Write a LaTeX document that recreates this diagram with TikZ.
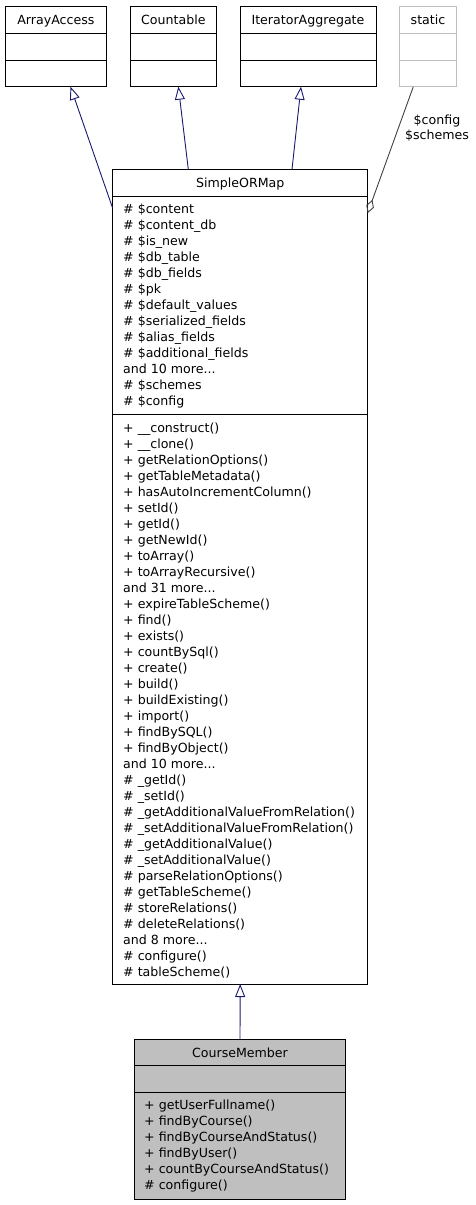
\documentclass[tikz,border=0pt]{standalone}
\usepackage{fontspec}
\setmainfont{DejaVu Sans}
\usetikzlibrary{arrows.meta}
\definecolor{edgeblue}{HTML}{191970}
\definecolor{greyline}{HTML}{404040}
\definecolor{greybox}{HTML}{BFBFBF}
\begin{document}
\begin{tikzpicture}[x=1pt,y=-1pt,
  every node/.style={font=\fontsize{12.6}{16}\selectfont},
  classbox/.style={draw, line width=1pt, anchor=north west, inner sep=0pt, outer sep=0pt},
  sep/.style={line width=1pt},
  title/.style={anchor=base, inner sep=0pt},
  members/.style={anchor=north west, inner sep=0pt, align=left},
  inherit/.style={draw=edgeblue, line width=0.9pt, -{Triangle[open,length=13pt,width=10pt]}},
  usage/.style={draw=greyline, line width=0.9pt, -{Diamond[open,length=14pt,width=8pt]}}]
\useasboundingbox (0,0) rectangle (476,1205);

% ---- top row ----
\node[classbox, minimum width=101.7pt, minimum height=80.7pt] (aa) at (5,6) {};
\draw[sep] (5,33.3) -- (106.7,33.3);
\draw[sep] (5,60) -- (106.7,60);
\node[title] (aat) at (55.85,24) {ArrayAccess};

\node[classbox, minimum width=86.7pt, minimum height=80.7pt] (cnt) at (130,6) {};
\draw[sep] (130,33.3) -- (216.7,33.3);
\draw[sep] (130,60) -- (216.7,60);
\node[title] (cntt) at (173.35,24) {Countable};

\node[classbox, minimum width=136pt, minimum height=80.7pt] (ia) at (240,6) {};
\draw[sep] (240,33.3) -- (376,33.3);
\draw[sep] (240,60) -- (376,60);
\node[title] (iat) at (308,24) {IteratorAggregate};

\node[classbox, draw=greybox, minimum width=57.4pt, minimum height=80.7pt] (st) at (399.3,6) {};
\draw[sep, greybox] (399.3,33.3) -- (456.7,33.3);
\draw[sep, greybox] (399.3,60) -- (456.7,60);
\node[title] (stt) at (428,24) {static};

% ---- SimpleORMap ----
\node[classbox, minimum width=255pt, minimum height=814.7pt] (smap) at (112.7,169.3) {};
\draw[sep] (112.7,196) -- (367.7,196);
\draw[sep] (112.7,414) -- (367.7,414);
\node[title] (smapt) at (240.2,187) {SimpleORMap};
\node[members] (smapa) at (123,201.8) {\strut\# \$content\\
\# \$content\_db\\
\# \$is\_new\\
\# \$db\_table\\
\# \$db\_fields\\
\# \$pk\\
\# \$default\_values\\
\# \$serialized\_fields\\
\# \$alias\_fields\\
\# \$additional\_fields\\
and 10 more...\\
\# \$schemes\\
\# \$config};
\node[members] (smapm) at (123,420.8) {\strut+ \_\_construct()\\
+ \_\_clone()\\
+ getRelationOptions()\\
+ getTableMetadata()\\
+ hasAutoIncrementColumn()\\
+ setId()\\
+ getId()\\
+ getNewId()\\
+ toArray()\\
+ toArrayRecursive()\\
and 31 more...\\
+ expireTableScheme()\\
+ find()\\
+ exists()\\
+ countBySql()\\
+ create()\\
+ build()\\
+ buildExisting()\\
+ import()\\
+ findBySQL()\\
+ findByObject()\\
and 10 more...\\
\# \_getId()\\
\# \_setId()\\
\# \_getAdditionalValueFromRelation()\\
\# \_setAdditionalValueFromRelation()\\
\# \_getAdditionalValue()\\
\# \_setAdditionalValue()\\
\# parseRelationOptions()\\
\# getTableScheme()\\
\# storeRelations()\\
\# deleteRelations()\\
and 8 more...\\
\# configure()\\
\# tableScheme()};

% ---- CourseMember ----
\node[classbox, fill=greybox, minimum width=211.4pt, minimum height=160pt] (cm) at (134.3,1039) {};
\draw[sep] (134.3,1065) -- (345.7,1065);
\draw[sep] (134.3,1092) -- (345.7,1092);
\node[title] (cmt) at (240,1057) {CourseMember};
\node[members] (cmm) at (144,1097.8) {\strut+ getUserFullname()\\
+ findByCourse()\\
+ findByCourseAndStatus()\\
+ findByUser()\\
+ countByCourseAndStatus()\\
\# configure()};

% ---- connectors ----
\draw[inherit] ([yshift=-39pt]smap.north west) -- ([xshift=14.65pt]aa.south);
\draw[inherit] ([xshift=-51.9pt]smap.north) -- ([xshift=5pt]cnt.south);
\draw[inherit] ([xshift=51.8pt]smap.north) -- ([xshift=-7pt]ia.south);
\draw[usage] ([xshift=-14.7pt]st.south) -- ([yshift=-43.7pt]smap.north east);
\draw[inherit] (cm.north) -- (smap.south);
\node[align=center, inner sep=0pt, anchor=north, font=\fontsize{12.6}{15}\selectfont] (lbl) at (437,113.8) {\strut\$config\\\$schemes};
\end{tikzpicture}
\end{document}
